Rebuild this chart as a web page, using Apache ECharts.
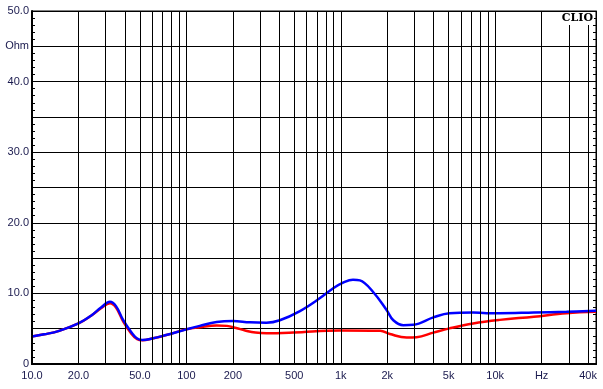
<!DOCTYPE html>
<html><head><meta charset="utf-8">
<script src="https://cdn.jsdelivr.net/npm/echarts@6/dist/echarts.min.js"></script>
<style>html,body{margin:0;padding:0;background:#fff}#c{width:603px;height:389px}</style>
</head><body><div id="c"></div>
<script>
// Frequencies (Hz) and impedance (Ohm)
const blueFreq = [10,12,15,20,24,28,32,35,39,44,48,52,60,74,100,122,157,200,258,330,403,544,730,890,1050,1200,1330,1620,1980,2190,2540,2950,3980,5060,7200,8800,10700,17800,29000,45000];
const blueOhm  = [3.9,4.2,4.7,5.75,6.8,8.0,8.8,8.2,6.2,4.5,3.6,3.4,3.6,4.1,4.9,5.4,5.95,6.1,5.9,5.85,6.2,7.5,9.3,10.7,11.6,11.95,11.85,10.2,7.65,6.2,5.5,5.55,6.6,7.2,7.3,7.2,7.2,7.3,7.4,7.55];
const redFreq  = [10,12,15,20,24,28,32,35,39,44,48,52,60,74,100,122,157,183,210,240,280,330,494,985,1800,2080,2670,3100,3980,5060,7200,10700,17800,29000,45000];
const redOhm   = [3.9,4.2,4.7,5.75,6.8,7.9,8.6,8.0,6.0,4.3,3.5,3.35,3.6,4.1,4.9,5.2,5.45,5.4,5.1,4.75,4.45,4.35,4.45,4.75,4.7,4.25,3.75,3.8,4.45,5.05,5.75,6.25,6.7,7.2,7.4];
const gridFreqs = [10,20,30,40,50,60,70,80,90,100,200,300,400,500,600,700,800,900,1000,2000,3000,4000,5000,6000,7000,8000,9000,10000,20000,30000,40000];
const xTickFreqs  = [10,20,50,100,200,500,1000,2000,5000,10000,20000,40000];
const xTickLabels = ['10.0','20.0','50.0','100','200','500','1k','2k','5k','10k','Hz','40k'];
const yMin = 0, yMax = 50, yStep = 5;

const labelColor = '#1a1a4e';
const zip = (a,b) => a.map((v,i)=>[v,b[i]]);

const gridLineData = gridFreqs.map(f => {
  const k = xTickFreqs.indexOf(f);
  return { xAxis: f, label: k >= 0 ? { show: true, formatter: xTickLabels[k] } : { show: false } };
});

const chart = echarts.init(document.getElementById('c'));
chart.setOption({
  animation: false,
  backgroundColor: '#fff',
  grid: { left: 32, right: 7, top: 11, bottom: 25, show: true, borderColor: '#000', borderWidth: 1 },
  xAxis: [
    { type: 'log', min: 10, max: 45000, logBase: 10,
      axisLine: { show: true, lineStyle: { color: '#000', width: 2 } },
      axisTick: { show: false }, axisLabel: { show: false }, splitLine: { show: false } },
    { type: 'log', min: 10, max: 45000, position: 'top',
      axisLine: { show: true, lineStyle: { color: '#000', width: 2 } },
      axisTick: { show: false }, axisLabel: { show: false }, splitLine: { show: false } }
  ],
  yAxis: [
    { type: 'value', min: yMin, max: yMax, interval: yStep,
      axisLine: { show: true, lineStyle: { color: '#000', width: 2 } },
      axisTick: { show: true, inside: true, length: 3, lineStyle: { color: '#000' } },
      minorTick: { show: true, splitNumber: 5, length: 3, lineStyle: { color: '#000' } },
      splitLine: { show: true, lineStyle: { color: '#000', width: 1 } },
      axisLabel: { color: labelColor, fontFamily: 'Liberation Sans, Arial', fontSize: 11, margin: 3,
        formatter: v => v === 0 ? '0' : (v === 45 ? 'Ohm' : (v % 10 === 0 ? v.toFixed(1) : '')) } },
    { type: 'value', min: yMin, max: yMax, interval: yStep, position: 'right',
      axisLine: { show: true, lineStyle: { color: '#000', width: 1 } },
      axisTick: { show: true, inside: true, length: 3, lineStyle: { color: '#000' } },
      minorTick: { show: true, splitNumber: 5, length: 3, lineStyle: { color: '#000' } },
      splitLine: { show: false }, axisLabel: { show: false } }
  ],
  series: [
    { type: 'line', data: [], z: 1, silent: true,
      markLine: { silent: true, symbol: 'none', animation: false,
        lineStyle: { color: '#000', width: 1, type: 'solid' },
        label: { position: 'start', distance: 6, color: labelColor, fontFamily: 'Liberation Sans, Arial', fontSize: 11 },
        emphasis: { disabled: true },
        data: gridLineData } },
    { name: 'red', type: 'line', data: zip(redFreq, redOhm), smooth: 0.4, showSymbol: false, z: 3,
      lineStyle: { color: '#ff0000', width: 2.5 } },
    { name: 'blue', type: 'line', data: zip(blueFreq, blueOhm), smooth: 0.4, showSymbol: false, z: 4,
      lineStyle: { color: '#0000ff', width: 2.5 } }
  ],
  graphic: [
    { type: 'text', right: 9, top: 12, z: 10,
      style: { text: 'CLIO', font: 'bold 11px "DejaVu Serif", serif', fill: '#000',
        backgroundColor: '#fff', padding: [1, 1, 1, 1] } }
  ]
});
</script></body></html>
